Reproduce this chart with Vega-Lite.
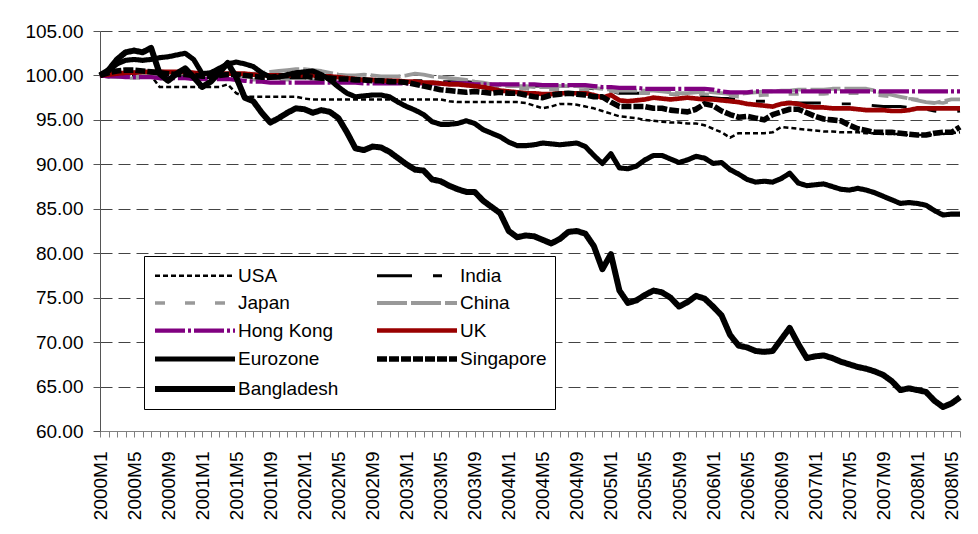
{
  "$schema": "https://vega.github.io/schema/vega-lite/v6.json",
  "width": 860,
  "height": 400,
  "autosize": {"type": "none"},
  "padding": {"left": 100, "top": 31, "right": 18, "bottom": 103},
  "background": "white",
  "config": {"font": "Liberation Sans, Arial, sans-serif", "view": {"stroke": null}},
  "data": {"values": [
    {"m":"2000M1","USA":100,"India":100,"Japan":100,"China":100,"Hong Kong":100,"UK":100,"Eurozone":100,"Singapore":100,"Bangladesh":100},
    {"m":"2000M2","USA":100,"India":100.1,"Japan":99.8,"China":99.9,"Hong Kong":99.9,"UK":100.1,"Eurozone":100.5,"Singapore":100.3,"Bangladesh":100.6},
    {"m":"2000M3","USA":100,"India":100.2,"Japan":99.7,"China":99.8,"Hong Kong":99.9,"UK":100.2,"Eurozone":101.3,"Singapore":100.5,"Bangladesh":101.8},
    {"m":"2000M4","USA":100,"India":100.3,"Japan":99.7,"China":99.9,"Hong Kong":99.8,"UK":100.3,"Eurozone":101.7,"Singapore":100.6,"Bangladesh":102.6},
    {"m":"2000M5","USA":100,"India":100.4,"Japan":99.7,"China":100.0,"Hong Kong":99.8,"UK":100.3,"Eurozone":101.8,"Singapore":100.6,"Bangladesh":102.8},
    {"m":"2000M6","USA":100,"India":100.4,"Japan":99.7,"China":100.1,"Hong Kong":99.8,"UK":100.4,"Eurozone":101.7,"Singapore":100.5,"Bangladesh":102.6},
    {"m":"2000M7","USA":100,"India":100.5,"Japan":99.6,"China":100.1,"Hong Kong":99.8,"UK":100.4,"Eurozone":101.8,"Singapore":100.4,"Bangladesh":103.1},
    {"m":"2000M8","USA":98.7,"India":100.5,"Japan":99.6,"China":100.2,"Hong Kong":99.7,"UK":100.4,"Eurozone":102.0,"Singapore":100.3,"Bangladesh":100.2},
    {"m":"2000M9","USA":98.7,"India":100.4,"Japan":99.6,"China":100.2,"Hong Kong":99.7,"UK":100.4,"Eurozone":102.1,"Singapore":100.2,"Bangladesh":99.4},
    {"m":"2000M10","USA":98.7,"India":100.4,"Japan":99.6,"China":100.2,"Hong Kong":99.7,"UK":100.4,"Eurozone":102.3,"Singapore":100.1,"Bangladesh":100.2},
    {"m":"2000M11","USA":98.7,"India":100.3,"Japan":99.6,"China":100.3,"Hong Kong":99.7,"UK":100.4,"Eurozone":102.5,"Singapore":100.1,"Bangladesh":100.8},
    {"m":"2000M12","USA":98.7,"India":100.2,"Japan":99.6,"China":100.2,"Hong Kong":99.6,"UK":100.3,"Eurozone":101.8,"Singapore":100.0,"Bangladesh":99.8},
    {"m":"2001M1","USA":98.7,"India":100.1,"Japan":99.6,"China":100.1,"Hong Kong":99.6,"UK":100.2,"Eurozone":100.2,"Singapore":99.9,"Bangladesh":98.7},
    {"m":"2001M2","USA":98.7,"India":100.0,"Japan":99.6,"China":100.1,"Hong Kong":99.6,"UK":100.2,"Eurozone":100.3,"Singapore":99.9,"Bangladesh":99.3},
    {"m":"2001M3","USA":98.7,"India":100.0,"Japan":99.6,"China":100.2,"Hong Kong":99.6,"UK":100.2,"Eurozone":100.8,"Singapore":100.0,"Bangladesh":100.3},
    {"m":"2001M4","USA":99.0,"India":100.0,"Japan":99.6,"China":100.2,"Hong Kong":99.6,"UK":100.2,"Eurozone":101.3,"Singapore":100.1,"Bangladesh":101.4},
    {"m":"2001M5","USA":98.0,"India":99.9,"Japan":99.6,"China":100.1,"Hong Kong":99.5,"UK":100.2,"Eurozone":101.5,"Singapore":100.1,"Bangladesh":99.8},
    {"m":"2001M6","USA":97.6,"India":99.9,"Japan":99.6,"China":100.1,"Hong Kong":99.4,"UK":100.2,"Eurozone":101.3,"Singapore":100.0,"Bangladesh":97.5},
    {"m":"2001M7","USA":97.6,"India":99.9,"Japan":99.5,"China":100.2,"Hong Kong":99.3,"UK":100.1,"Eurozone":101.0,"Singapore":99.9,"Bangladesh":97.1},
    {"m":"2001M8","USA":97.6,"India":99.8,"Japan":99.5,"China":100.3,"Hong Kong":99.3,"UK":100.0,"Eurozone":100.3,"Singapore":99.8,"Bangladesh":95.8},
    {"m":"2001M9","USA":97.6,"India":99.8,"Japan":99.5,"China":100.4,"Hong Kong":99.2,"UK":100.0,"Eurozone":99.8,"Singapore":99.8,"Bangladesh":94.7},
    {"m":"2001M10","USA":97.6,"India":99.8,"Japan":99.5,"China":100.5,"Hong Kong":99.2,"UK":100.0,"Eurozone":99.8,"Singapore":99.9,"Bangladesh":95.2},
    {"m":"2001M11","USA":97.6,"India":99.7,"Japan":99.5,"China":100.6,"Hong Kong":99.2,"UK":100.0,"Eurozone":100.1,"Singapore":100.0,"Bangladesh":95.8},
    {"m":"2001M12","USA":97.6,"India":99.7,"Japan":99.5,"China":100.7,"Hong Kong":99.2,"UK":100.0,"Eurozone":100.3,"Singapore":100.0,"Bangladesh":96.3},
    {"m":"2002M1","USA":97.4,"India":99.7,"Japan":99.5,"China":100.7,"Hong Kong":99.2,"UK":100.0,"Eurozone":100.4,"Singapore":99.9,"Bangladesh":96.2},
    {"m":"2002M2","USA":97.3,"India":99.7,"Japan":99.5,"China":100.6,"Hong Kong":99.2,"UK":100.0,"Eurozone":100.5,"Singapore":99.8,"Bangladesh":95.8},
    {"m":"2002M3","USA":97.3,"India":99.6,"Japan":99.5,"China":100.5,"Hong Kong":99.2,"UK":99.9,"Eurozone":100.1,"Singapore":99.7,"Bangladesh":96.1},
    {"m":"2002M4","USA":97.3,"India":99.6,"Japan":99.4,"China":100.3,"Hong Kong":99.2,"UK":99.9,"Eurozone":99.5,"Singapore":99.7,"Bangladesh":95.9},
    {"m":"2002M5","USA":97.3,"India":99.6,"Japan":99.4,"China":100.1,"Hong Kong":99.2,"UK":99.8,"Eurozone":98.7,"Singapore":99.6,"Bangladesh":95.2},
    {"m":"2002M6","USA":97.3,"India":99.5,"Japan":99.4,"China":100.0,"Hong Kong":99.2,"UK":99.7,"Eurozone":98.0,"Singapore":99.6,"Bangladesh":93.6},
    {"m":"2002M7","USA":97.3,"India":99.5,"Japan":99.4,"China":100.0,"Hong Kong":99.2,"UK":99.6,"Eurozone":97.6,"Singapore":99.5,"Bangladesh":91.8},
    {"m":"2002M8","USA":97.3,"India":99.5,"Japan":99.4,"China":100.1,"Hong Kong":99.1,"UK":99.5,"Eurozone":97.7,"Singapore":99.5,"Bangladesh":91.6},
    {"m":"2002M9","USA":97.3,"India":99.5,"Japan":99.4,"China":100.0,"Hong Kong":99.1,"UK":99.5,"Eurozone":97.8,"Singapore":99.4,"Bangladesh":92.0},
    {"m":"2002M10","USA":97.3,"India":99.5,"Japan":99.4,"China":99.9,"Hong Kong":99.1,"UK":99.4,"Eurozone":97.8,"Singapore":99.4,"Bangladesh":91.9},
    {"m":"2002M11","USA":97.3,"India":99.5,"Japan":99.4,"China":99.9,"Hong Kong":99.1,"UK":99.4,"Eurozone":97.6,"Singapore":99.3,"Bangladesh":91.4},
    {"m":"2002M12","USA":97.3,"India":99.5,"Japan":99.3,"China":99.9,"Hong Kong":99.1,"UK":99.4,"Eurozone":97.0,"Singapore":99.3,"Bangladesh":90.7},
    {"m":"2003M1","USA":97.3,"India":99.4,"Japan":99.3,"China":100.0,"Hong Kong":99.1,"UK":99.3,"Eurozone":96.5,"Singapore":99.2,"Bangladesh":90.0},
    {"m":"2003M2","USA":97.3,"India":99.4,"Japan":99.3,"China":100.2,"Hong Kong":99.1,"UK":99.3,"Eurozone":96.1,"Singapore":99.0,"Bangladesh":89.4},
    {"m":"2003M3","USA":97.3,"India":99.4,"Japan":99.3,"China":100.1,"Hong Kong":99.1,"UK":99.2,"Eurozone":95.6,"Singapore":98.8,"Bangladesh":89.3},
    {"m":"2003M4","USA":97.3,"India":99.3,"Japan":99.2,"China":99.9,"Hong Kong":99.1,"UK":99.2,"Eurozone":94.8,"Singapore":98.6,"Bangladesh":88.3},
    {"m":"2003M5","USA":97.3,"India":99.3,"Japan":99.2,"China":99.8,"Hong Kong":99.1,"UK":99.1,"Eurozone":94.5,"Singapore":98.4,"Bangladesh":88.1},
    {"m":"2003M6","USA":97.1,"India":99.3,"Japan":99.1,"China":99.7,"Hong Kong":99.1,"UK":99.0,"Eurozone":94.5,"Singapore":98.3,"Bangladesh":87.6},
    {"m":"2003M7","USA":97.0,"India":99.3,"Japan":99.0,"China":99.6,"Hong Kong":99.1,"UK":99.0,"Eurozone":94.6,"Singapore":98.2,"Bangladesh":87.2},
    {"m":"2003M8","USA":97.0,"India":99.3,"Japan":98.9,"China":99.5,"Hong Kong":99.1,"UK":98.9,"Eurozone":94.9,"Singapore":98.1,"Bangladesh":86.9},
    {"m":"2003M9","USA":97.0,"India":99.2,"Japan":98.8,"China":99.3,"Hong Kong":99.0,"UK":98.8,"Eurozone":94.6,"Singapore":98.2,"Bangladesh":86.9},
    {"m":"2003M10","USA":97.0,"India":99.2,"Japan":98.7,"China":99.2,"Hong Kong":99.0,"UK":98.7,"Eurozone":93.9,"Singapore":98.1,"Bangladesh":85.9},
    {"m":"2003M11","USA":97.0,"India":99.1,"Japan":98.6,"China":99.0,"Hong Kong":99.0,"UK":98.5,"Eurozone":93.5,"Singapore":98.0,"Bangladesh":85.2},
    {"m":"2003M12","USA":97.0,"India":99.0,"Japan":98.6,"China":98.9,"Hong Kong":99.0,"UK":98.3,"Eurozone":93.1,"Singapore":98.1,"Bangladesh":84.5},
    {"m":"2004M1","USA":97.0,"India":98.9,"Japan":98.5,"China":98.8,"Hong Kong":99.0,"UK":98.2,"Eurozone":92.5,"Singapore":98.0,"Bangladesh":82.5},
    {"m":"2004M2","USA":97.0,"India":98.9,"Japan":98.5,"China":98.8,"Hong Kong":99.0,"UK":98.1,"Eurozone":92.1,"Singapore":98.0,"Bangladesh":81.8},
    {"m":"2004M3","USA":96.9,"India":98.8,"Japan":98.5,"China":98.8,"Hong Kong":99.0,"UK":98.0,"Eurozone":92.1,"Singapore":97.8,"Bangladesh":82.0},
    {"m":"2004M4","USA":96.6,"India":98.8,"Japan":98.4,"China":98.7,"Hong Kong":99.0,"UK":98.0,"Eurozone":92.2,"Singapore":97.6,"Bangladesh":81.9},
    {"m":"2004M5","USA":96.3,"India":98.8,"Japan":98.4,"China":98.7,"Hong Kong":98.9,"UK":97.9,"Eurozone":92.4,"Singapore":97.5,"Bangladesh":81.5},
    {"m":"2004M6","USA":96.5,"India":98.8,"Japan":98.4,"China":98.7,"Hong Kong":98.9,"UK":97.9,"Eurozone":92.3,"Singapore":97.8,"Bangladesh":81.1},
    {"m":"2004M7","USA":96.8,"India":98.8,"Japan":98.4,"China":98.8,"Hong Kong":98.9,"UK":98.0,"Eurozone":92.2,"Singapore":97.9,"Bangladesh":81.6},
    {"m":"2004M8","USA":96.8,"India":98.7,"Japan":98.4,"China":98.8,"Hong Kong":98.9,"UK":98.0,"Eurozone":92.3,"Singapore":98.0,"Bangladesh":82.4},
    {"m":"2004M9","USA":96.7,"India":98.7,"Japan":98.4,"China":98.8,"Hong Kong":98.9,"UK":98.0,"Eurozone":92.4,"Singapore":97.9,"Bangladesh":82.5},
    {"m":"2004M10","USA":96.5,"India":98.6,"Japan":98.3,"China":98.7,"Hong Kong":98.9,"UK":98.0,"Eurozone":92.0,"Singapore":97.8,"Bangladesh":82.2},
    {"m":"2004M11","USA":96.3,"India":98.5,"Japan":98.3,"China":98.6,"Hong Kong":98.8,"UK":97.8,"Eurozone":91.0,"Singapore":97.6,"Bangladesh":80.8},
    {"m":"2004M12","USA":96.0,"India":98.4,"Japan":98.3,"China":98.5,"Hong Kong":98.7,"UK":97.5,"Eurozone":90.1,"Singapore":97.6,"Bangladesh":78.2},
    {"m":"2005M1","USA":95.7,"India":98.2,"Japan":98.2,"China":98.4,"Hong Kong":98.7,"UK":97.8,"Eurozone":91.2,"Singapore":97.0,"Bangladesh":79.9},
    {"m":"2005M2","USA":95.4,"India":98.0,"Japan":98.1,"China":98.3,"Hong Kong":98.6,"UK":97.2,"Eurozone":89.6,"Singapore":96.5,"Bangladesh":75.8},
    {"m":"2005M3","USA":95.3,"India":98.0,"Japan":98.0,"China":98.3,"Hong Kong":98.6,"UK":97.1,"Eurozone":89.5,"Singapore":96.5,"Bangladesh":74.4},
    {"m":"2005M4","USA":95.2,"India":98.0,"Japan":98.0,"China":98.3,"Hong Kong":98.6,"UK":97.2,"Eurozone":89.8,"Singapore":96.5,"Bangladesh":74.7},
    {"m":"2005M5","USA":95.0,"India":98.0,"Japan":98.0,"China":98.3,"Hong Kong":98.5,"UK":97.3,"Eurozone":90.5,"Singapore":96.5,"Bangladesh":75.3},
    {"m":"2005M6","USA":94.9,"India":98.0,"Japan":98.0,"China":98.3,"Hong Kong":98.5,"UK":97.5,"Eurozone":91.0,"Singapore":96.3,"Bangladesh":75.8},
    {"m":"2005M7","USA":94.8,"India":98.0,"Japan":97.9,"China":98.2,"Hong Kong":98.5,"UK":97.4,"Eurozone":91.0,"Singapore":96.3,"Bangladesh":75.6},
    {"m":"2005M8","USA":94.7,"India":97.9,"Japan":97.9,"China":98.1,"Hong Kong":98.5,"UK":97.3,"Eurozone":90.6,"Singapore":96.1,"Bangladesh":75.0},
    {"m":"2005M9","USA":94.7,"India":97.9,"Japan":97.9,"China":98.0,"Hong Kong":98.5,"UK":97.4,"Eurozone":90.2,"Singapore":96.0,"Bangladesh":74.0},
    {"m":"2005M10","USA":94.6,"India":97.9,"Japan":97.9,"China":98.0,"Hong Kong":98.5,"UK":97.5,"Eurozone":90.5,"Singapore":95.9,"Bangladesh":74.5},
    {"m":"2005M11","USA":94.6,"India":97.8,"Japan":97.9,"China":98.1,"Hong Kong":98.5,"UK":97.4,"Eurozone":90.9,"Singapore":96.2,"Bangladesh":75.2},
    {"m":"2005M12","USA":94.4,"India":97.6,"Japan":97.9,"China":98.2,"Hong Kong":98.5,"UK":97.3,"Eurozone":90.7,"Singapore":96.8,"Bangladesh":74.9},
    {"m":"2006M1","USA":94.0,"India":97.5,"Japan":97.9,"China":98.1,"Hong Kong":98.4,"UK":97.3,"Eurozone":90.1,"Singapore":96.6,"Bangladesh":74.0},
    {"m":"2006M2","USA":93.6,"India":97.4,"Japan":97.8,"China":98.0,"Hong Kong":98.2,"UK":97.2,"Eurozone":90.2,"Singapore":96.0,"Bangladesh":73.0},
    {"m":"2006M3","USA":93.0,"India":97.4,"Japan":97.7,"China":97.9,"Hong Kong":98.1,"UK":97.1,"Eurozone":89.4,"Singapore":95.6,"Bangladesh":70.8},
    {"m":"2006M4","USA":93.5,"India":97.3,"Japan":97.6,"China":97.9,"Hong Kong":98.1,"UK":97.0,"Eurozone":88.9,"Singapore":95.3,"Bangladesh":69.6},
    {"m":"2006M5","USA":93.5,"India":97.2,"Japan":97.6,"China":98.0,"Hong Kong":98.1,"UK":96.8,"Eurozone":88.3,"Singapore":95.4,"Bangladesh":69.4},
    {"m":"2006M6","USA":93.5,"India":97.1,"Japan":97.7,"China":98.1,"Hong Kong":98.2,"UK":96.7,"Eurozone":88.0,"Singapore":95.2,"Bangladesh":69.0},
    {"m":"2006M7","USA":93.5,"India":97.1,"Japan":97.8,"China":98.2,"Hong Kong":98.2,"UK":96.6,"Eurozone":88.1,"Singapore":95.0,"Bangladesh":68.9},
    {"m":"2006M8","USA":93.6,"India":97.1,"Japan":97.8,"China":98.2,"Hong Kong":98.2,"UK":96.5,"Eurozone":88.0,"Singapore":95.6,"Bangladesh":69.0},
    {"m":"2006M9","USA":94.2,"India":97.0,"Japan":97.9,"China":98.3,"Hong Kong":98.2,"UK":96.8,"Eurozone":88.4,"Singapore":95.9,"Bangladesh":70.3},
    {"m":"2006M10","USA":94.1,"India":97.0,"Japan":97.9,"China":98.3,"Hong Kong":98.2,"UK":96.9,"Eurozone":89.0,"Singapore":96.2,"Bangladesh":71.6},
    {"m":"2006M11","USA":94.0,"India":96.9,"Japan":97.9,"China":98.4,"Hong Kong":98.2,"UK":96.8,"Eurozone":87.9,"Singapore":96.2,"Bangladesh":69.8},
    {"m":"2006M12","USA":93.9,"India":96.9,"Japan":97.9,"China":98.4,"Hong Kong":98.2,"UK":96.5,"Eurozone":87.6,"Singapore":95.8,"Bangladesh":68.2},
    {"m":"2007M1","USA":93.8,"India":96.9,"Japan":97.9,"China":98.4,"Hong Kong":98.2,"UK":96.4,"Eurozone":87.7,"Singapore":95.4,"Bangladesh":68.4},
    {"m":"2007M2","USA":93.7,"India":96.9,"Japan":97.9,"China":98.4,"Hong Kong":98.2,"UK":96.4,"Eurozone":87.8,"Singapore":95.1,"Bangladesh":68.5},
    {"m":"2007M3","USA":93.7,"India":96.8,"Japan":98.0,"China":98.5,"Hong Kong":98.2,"UK":96.3,"Eurozone":87.5,"Singapore":95.0,"Bangladesh":68.2},
    {"m":"2007M4","USA":93.6,"India":96.8,"Japan":98.0,"China":98.5,"Hong Kong":98.2,"UK":96.3,"Eurozone":87.2,"Singapore":94.9,"Bangladesh":67.8},
    {"m":"2007M5","USA":93.6,"India":96.8,"Japan":98.0,"China":98.5,"Hong Kong":98.2,"UK":96.3,"Eurozone":87.1,"Singapore":94.4,"Bangladesh":67.5},
    {"m":"2007M6","USA":93.6,"India":96.8,"Japan":98.0,"China":98.5,"Hong Kong":98.2,"UK":96.2,"Eurozone":87.3,"Singapore":94.0,"Bangladesh":67.2},
    {"m":"2007M7","USA":93.5,"India":96.7,"Japan":97.9,"China":98.5,"Hong Kong":98.2,"UK":96.1,"Eurozone":87.1,"Singapore":93.8,"Bangladesh":67.0},
    {"m":"2007M8","USA":93.5,"India":96.6,"Japan":97.8,"China":98.3,"Hong Kong":98.2,"UK":96.1,"Eurozone":86.8,"Singapore":93.6,"Bangladesh":66.7},
    {"m":"2007M9","USA":93.4,"India":96.5,"Japan":97.7,"China":98.0,"Hong Kong":98.2,"UK":96.1,"Eurozone":86.4,"Singapore":93.6,"Bangladesh":66.3},
    {"m":"2007M10","USA":93.4,"India":96.5,"Japan":97.6,"China":97.8,"Hong Kong":98.2,"UK":96.0,"Eurozone":86.0,"Singapore":93.6,"Bangladesh":65.6},
    {"m":"2007M11","USA":93.4,"India":96.5,"Japan":97.5,"China":97.6,"Hong Kong":98.2,"UK":96.0,"Eurozone":85.6,"Singapore":93.5,"Bangladesh":64.6},
    {"m":"2007M12","USA":93.3,"India":96.4,"Japan":97.4,"China":97.4,"Hong Kong":98.2,"UK":96.1,"Eurozone":85.7,"Singapore":93.4,"Bangladesh":64.8},
    {"m":"2008M1","USA":93.3,"India":96.3,"Japan":97.3,"China":97.2,"Hong Kong":98.2,"UK":96.3,"Eurozone":85.6,"Singapore":93.3,"Bangladesh":64.6},
    {"m":"2008M2","USA":93.3,"India":96.2,"Japan":97.2,"China":97.0,"Hong Kong":98.2,"UK":96.3,"Eurozone":85.4,"Singapore":93.3,"Bangladesh":64.4},
    {"m":"2008M3","USA":93.4,"India":96.0,"Japan":97.0,"China":96.9,"Hong Kong":98.2,"UK":96.3,"Eurozone":84.8,"Singapore":93.5,"Bangladesh":63.4},
    {"m":"2008M4","USA":93.4,"India":95.9,"Japan":96.9,"China":97.1,"Hong Kong":98.2,"UK":96.3,"Eurozone":84.3,"Singapore":93.6,"Bangladesh":62.7},
    {"m":"2008M5","USA":93.5,"India":95.9,"Japan":97.1,"China":97.3,"Hong Kong":98.2,"UK":96.3,"Eurozone":84.4,"Singapore":93.6,"Bangladesh":63.1},
    {"m":"2008M6","USA":93.6,"India":96.0,"Japan":97.3,"China":97.3,"Hong Kong":98.2,"UK":96.3,"Eurozone":84.4,"Singapore":94.2,"Bangladesh":63.8}
  ]},
  "transform": [
    {"fold": ["USA","India","Japan","China","Hong Kong","UK","Eurozone","Singapore","Bangladesh"], "as": ["country","value"]}
  ],
  "mark": {"type": "line", "strokeJoin": "round"},
  "encoding": {
    "x": {
      "field": "m", "type": "ordinal", "sort": null,
      "scale": {"type": "point", "padding": 0},
      "axis": {
        "title": null, "labelAngle": -90, "labelOverlap": false, "labelBound": false,
        "labelExpr": "test(/M(1|5|9)$/, datum.value) ? datum.value : ''",
        "labelFontSize": 19, "labelColor": "black",
        "labelPadding": 14, "tickSize": 6, "tickColor": "#808080", "domainColor": "#808080",
        "grid": false
      }
    },
    "y": {
      "field": "value", "type": "quantitative",
      "scale": {"domain": [60, 105], "nice": false, "zero": false},
      "axis": {
        "title": null, "values": [60,65,70,75,80,85,90,95,100,105], "format": ".2f",
        "labelFontSize": 19, "labelColor": "black",
        "labelPadding": 10, "tickSize": 7, "tickColor": "#555555", "domainColor": "#555555",
        "grid": true, "gridDash": [12, 6], "gridColor": "#444444",
        "gridOpacity": {"condition": {"test": "datum.value === 60", "value": 0}, "value": 1}
      }
    },
    "color": {
      "field": "country", "type": "nominal",
      "scale": {
        "domain": ["USA","India","Japan","China","Hong Kong","UK","Eurozone","Singapore","Bangladesh"],
        "range": ["#000000","#000000","#999999","#999999","#800080","#990000","#000000","#000000","#000000"]
      },
      "legend": {
        "title": null, "orient": "none", "legendX": 44, "legendY": 225, "columns": 2, "direction": "horizontal",
        "symbolType": "M-1,0H7", "symbolSize": 400, "symbolOpacity": 1,
        "labelFontSize": 19, "labelColor": "black", "labelLimit": 300,
        "labelOffset": 60, "columnPadding": 26, "rowPadding": 5, "padding": 8,
        "strokeColor": "black", "fillColor": "white"
      }
    },
    "strokeDash": {
      "field": "country", "type": "nominal",
      "scale": {
        "domain": ["USA","India","Japan","China","Hong Kong","UK","Eurozone","Singapore","Bangladesh"],
        "range": [[5,3],[35,21,9,21],[10,20],[30,4],[30,3,3,3],[1,0],[1,0],[10,2],[1,0]]
      },
      "legend": {
        "title": null, "orient": "none", "legendX": 44, "legendY": 225, "columns": 2, "direction": "horizontal",
        "symbolType": "M-1,0H7", "symbolSize": 400
      }
    },
    "strokeWidth": {
      "field": "country", "type": "nominal",
      "scale": {
        "domain": ["USA","India","Japan","China","Hong Kong","UK","Eurozone","Singapore","Bangladesh"],
        "range": [2.5, 6, 5, 7, 3, 2, 5, 6.5, 9]
      },
      "legend": {
        "title": null, "orient": "none", "legendX": 44, "legendY": 225, "columns": 2, "direction": "horizontal",
        "symbolType": "M-1,0H7", "symbolSize": 400
      }
    }
  }
}
